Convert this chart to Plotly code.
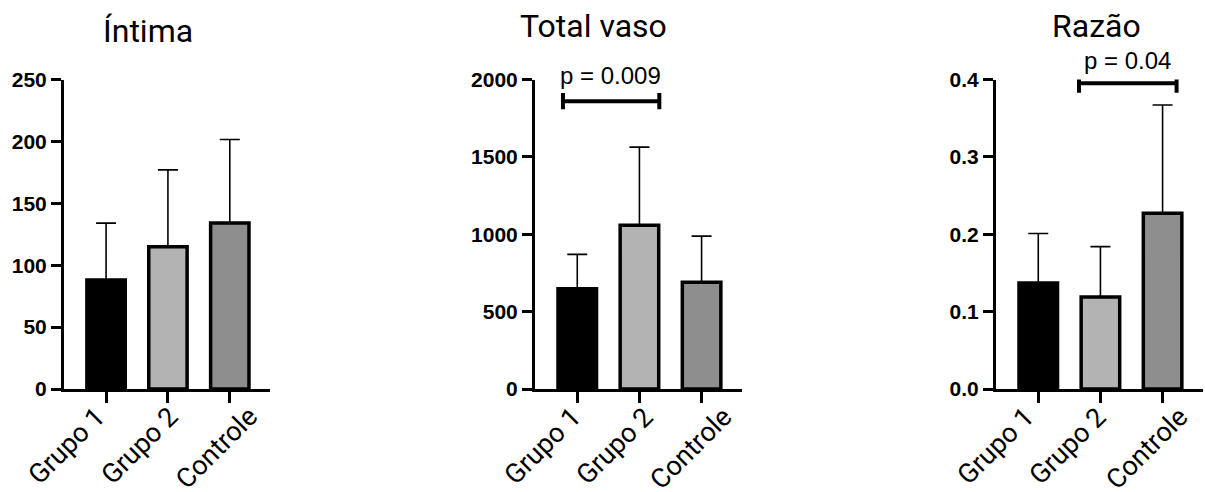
import plotly.graph_objects as go

W, H = 1205, 492

categories = ["Grupo 1", "Grupo 2", "Controle"]
colors = ["#000000", "#b3b3b3", "#8e8e8e"]

titles = ["Íntima", "Total vaso", "Razão"]

intima_mean = [88, 115, 134]
intima_err = [46, 62, 67.5]

total_mean = [648, 1058, 690]
total_err = [222, 505, 298]

razao_mean = [0.137, 0.119, 0.227]
razao_err = [0.064, 0.065, 0.140]

y_ranges = [[0, 250], [0, 2000], [0, 0.4]]
y_ticks = [[0, 50, 100, 150, 200, 250],
           [0, 500, 1000, 1500, 2000],
           [0.0, 0.1, 0.2, 0.3, 0.4]]
y_ticktext = [["0", "50", "100", "150", "200", "250"],
              ["0", "500", "1000", "1500", "2000"],
              ["0.0", "0.1", "0.2", "0.3", "0.4"]]

# significance brackets: (panel index, x start, x end, y level, cap half-height, label, label x, label y px)
brackets = [
    (1, -0.23, 1.32, 1860, 52, "p = 0.009", 0.53, 76),
    (2, 0.655, 2.225, 0.395, 0.012, "p = 0.04", 1.44, 60),
]

# layout in pixels
x_px = [(64, 270), (535, 742), (996, 1203)]
y_bottom_px, y_top_px = 389, 79.5
title_pos = [(148, 31), (593, 26), (1096, 26)]
# rotated category label placement: horizontal shift of label's right edge from tick (px), top y (px)
label_shift = [[8, 19, 37], [13, 23, 40], [5, 15, 35]]
label_top_px = 398

means = [intima_mean, total_mean, razao_mean]
errs = [intima_err, total_err, razao_err]

fig = go.Figure()
for i in range(3):
    ax = "" if i == 0 else str(i + 1)
    fig.add_trace(go.Bar(
        x=categories, y=means[i],
        xaxis="x" + ax, yaxis="y" + ax,
        width=0.62,
        marker=dict(color=colors, line=dict(color="black", width=3.5)),
        error_y=dict(type="data", array=errs[i], arrayminus=[0, 0, 0],
                     symmetric=False, color="black", thickness=1.6, width=10),
        showlegend=False,
    ))

layout = dict(
    width=W, height=H,
    margin=dict(l=0, r=0, t=0, b=0, autoexpand=False),
    paper_bgcolor="white", plot_bgcolor="white",
)
dom_y = [(H - y_bottom_px) / H, (H - y_top_px) / H]
for i in range(3):
    ax = "" if i == 0 else str(i + 1)
    x0, x1 = x_px[i]
    layout["xaxis" + ax] = dict(
        domain=[x0 / W, x1 / W], anchor="y" + ax,
        range=[-0.68, 2.65], automargin=False,
        showline=True, linecolor="black", linewidth=3,
        ticks="outside", ticklen=11, tickwidth=2.5, tickcolor="black",
        showticklabels=False, showgrid=False, zeroline=False,
        fixedrange=True,
    )
    layout["yaxis" + ax] = dict(
        domain=dom_y, anchor="x" + ax,
        range=y_ranges[i], automargin=False,
        tickvals=y_ticks[i], ticktext=y_ticktext[i],
        showline=True, linecolor="black", linewidth=3,
        ticks="outside", ticklen=10, tickwidth=2.5, tickcolor="black",
        showgrid=False, zeroline=False,
        tickfont=dict(family="Liberation Sans", size=21, color="black", weight="bold"),
        fixedrange=True,
    )
fig.update_layout(**layout)

for i in range(3):
    ax = "" if i == 0 else str(i + 1)
    for j, cat in enumerate(categories):
        fig.add_annotation(text=cat, x=cat, xref="x" + ax, y=(H - label_top_px) / H, yref="paper",
                           xshift=label_shift[i][j], textangle=-45, showarrow=False,
                           xanchor="right", yanchor="top",
                           font=dict(family="Roboto", size=27, color="black"))

for i, t in enumerate(titles):
    cx, cy = title_pos[i]
    fig.add_annotation(text=t, x=cx / W, y=(H - cy) / H, xref="paper", yref="paper",
                       showarrow=False, xanchor="center", yanchor="middle",
                       font=dict(family="Roboto", size=32, color="black"))

for (p, xs, xe, yl, cap, lab, lx, ly) in brackets:
    ax = str(p + 1)
    xr, yr = "x" + ax, "y" + ax
    line = dict(color="black", width=4)
    fig.add_shape(type="line", x0=xs, x1=xe, y0=yl, y1=yl, xref=xr, yref=yr, line=line)
    fig.add_shape(type="line", x0=xs, x1=xs, y0=yl - cap, y1=yl + cap, xref=xr, yref=yr, line=line)
    fig.add_shape(type="line", x0=xe, x1=xe, y0=yl - cap, y1=yl + cap, xref=xr, yref=yr, line=line)
    fig.add_annotation(text=lab, x=lx, y=(H - ly) / H, xref=xr, yref="paper", showarrow=False,
                       xanchor="center", yanchor="middle",
                       font=dict(family="Liberation Sans", size=24, color="black"))

fig.write_html("out.html", config={"displayModeBar": False},
               post_script="document.body.style.margin='0px';document.body.style.overflow='hidden';")
